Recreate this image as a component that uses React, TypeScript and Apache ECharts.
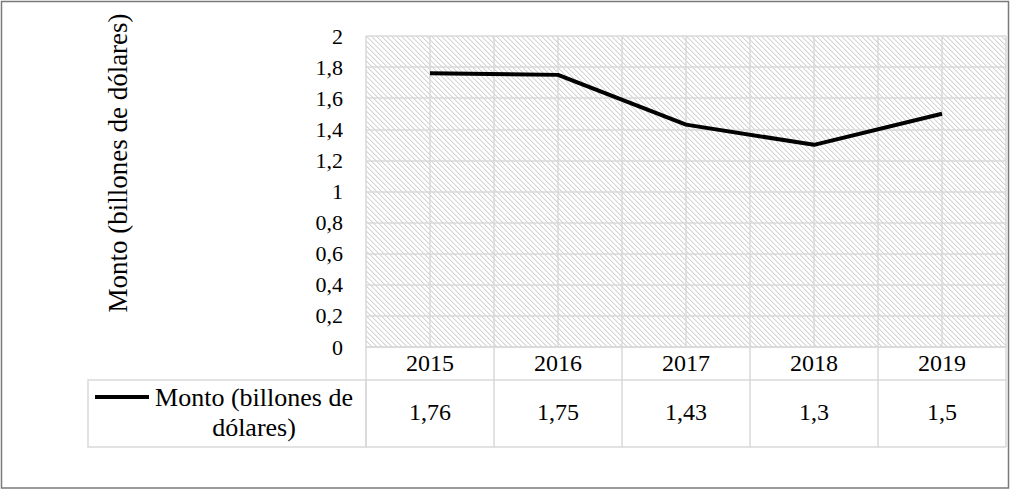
import { useEffect, useRef } from 'react';
import * as echarts from 'echarts';

const years = ['2015', '2016', '2017', '2018', '2019'];
const monto = [1.76, 1.75, 1.43, 1.3, 1.5];
const seriesName = 'Monto (billones de dólares)';
const tableLegend = 'Monto (billones de\ndólares)';

const FONT = "'Liberation Serif', 'DejaVu Serif', serif";
const GRID = '#d9d9d9';

// comma decimal, like the source workbook
const fmt = (v: number) => String(Number(v.toFixed(2))).replace('.', ',');

function hatchTile() {
    const c = document.createElement('canvas');
    c.width = 5;
    c.height = 5;
    const ctx = c.getContext('2d')!;
    ctx.fillStyle = '#ffffff';
    ctx.fillRect(0, 0, 5, 5);
    for (let i = 0; i < 5; i++) {
        ctx.fillStyle = '#d3d3d3';
        ctx.fillRect(i, i, 1, 1);
        ctx.fillStyle = '#ededed';
        ctx.fillRect((i + 1) % 5, i, 1, 1);
    }
    return c;
}

const App = () => {
    const chartRef = useRef<HTMLDivElement>(null);

    useEffect(() => {
        if (!chartRef.current) return;
        const chart = echarts.init(chartRef.current, null, { renderer: 'svg' });

        chart.setOption({
            animation: false,
            textStyle: { fontFamily: FONT },
            grid: {
                left: 366,
                top: 36,
                width: 640,
                height: 311,
                show: true,
                borderWidth: 0,
                backgroundColor: { image: hatchTile(), repeat: 'repeat' },
            },
            xAxis: [
                {
                    type: 'category',
                    data: years,
                    boundaryGap: true,
                    position: 'bottom',
                    axisLine: { lineStyle: { color: GRID, width: 1.5 } },
                    axisTick: { show: true, length: 33, lineStyle: { color: GRID, width: 1.5 } },
                    axisLabel: { color: '#000', fontSize: 24, margin: 4, fontFamily: FONT },
                    splitLine: { show: false },
                },
                {
                    // half-category gridlines
                    type: 'value',
                    min: 0,
                    max: 10,
                    interval: 1,
                    position: 'top',
                    axisLine: { show: false },
                    axisTick: { show: false },
                    axisLabel: { show: false },
                    splitLine: { show: true, lineStyle: { color: GRID, width: 1.5 } },
                },
                {
                    // data table values row
                    type: 'category',
                    data: monto.map(fmt),
                    boundaryGap: true,
                    position: 'bottom',
                    offset: 33,
                    axisLine: { lineStyle: { color: GRID, width: 1.5 } },
                    axisTick: { show: true, length: 67, lineStyle: { color: GRID, width: 1.5 } },
                    axisLabel: { color: '#000', fontSize: 24, margin: 20, fontFamily: FONT },
                    splitLine: { show: false },
                },
            ],
            yAxis: {
                type: 'value',
                min: 0,
                max: 2,
                interval: 0.2,
                axisLine: { show: false },
                axisTick: { show: false },
                axisLabel: {
                    color: '#000',
                    fontSize: 22,
                    margin: 23,
                    fontFamily: FONT,
                    formatter: (v: number) => fmt(v),
                },
                splitLine: { show: true, lineStyle: { color: GRID, width: 1.5 } },
            },
            series: [
                {
                    name: seriesName,
                    type: 'line',
                    data: monto,
                    xAxisIndex: 0,
                    symbol: 'none',
                    lineStyle: { color: '#000', width: 4 },
                },
            ],
            graphic: [
                {
                    type: 'rect',
                    shape: { x: 1.5, y: 1.5, width: 1007, height: 486.5 },
                    style: { fill: 'none', stroke: '#7a7a7a', lineWidth: 1.5 },
                    silent: true,
                },
                {
                    type: 'text',
                    x: 118,
                    y: 163,
                    rotation: Math.PI / 2,
                    style: {
                        text: seriesName,
                        fontFamily: FONT,
                        fontSize: 27,
                        fill: '#000',
                        align: 'center',
                        verticalAlign: 'middle',
                    },
                },
                {
                    type: 'rect',
                    shape: { x: 88, y: 380, width: 278, height: 67 },
                    style: { fill: 'none', stroke: GRID, lineWidth: 1.5 },
                },
                {
                    type: 'line',
                    shape: { x1: 366, y1: 447, x2: 1006, y2: 447 },
                    style: { stroke: GRID, lineWidth: 1.5 },
                },
                {
                    type: 'line',
                    shape: { x1: 95, y1: 397, x2: 149, y2: 397 },
                    style: { stroke: '#000', lineWidth: 4 },
                },
                {
                    type: 'text',
                    x: 254,
                    y: 412,
                    style: {
                        text: tableLegend,
                        fontFamily: FONT,
                        fontSize: 26,
                        lineHeight: 30,
                        fill: '#000',
                        align: 'center',
                        verticalAlign: 'middle',
                    },
                },
            ],
        });

        return () => {
            chart.dispose();
        };
    }, []);

    return (
        <div
            ref={chartRef}
            style={{ position: 'fixed', left: 0, top: 0, width: 1011, height: 494, background: '#fff' }}
        />
    );
};

export default App;
